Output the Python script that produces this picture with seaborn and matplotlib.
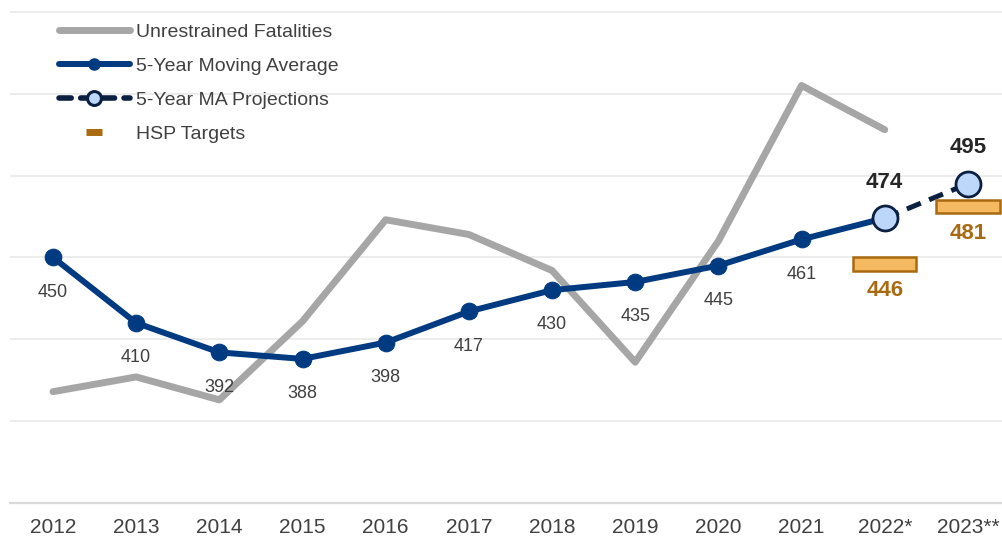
import matplotlib
matplotlib.use("Agg")
import matplotlib.pyplot as plt
from matplotlib.lines import Line2D
import seaborn as sns
import pandas as pd

years = ["2012", "2013", "2014", "2015", "2016", "2017", "2018", "2019",
         "2020", "2021", "2022*", "2023**"]
fatalities = [368, 377, 363, 411, 473, 464, 442, 386, 460, 555, 528]
moving_avg = [450, 410, 392, 388, 398, 417, 430, 435, 445, 461, 474]
proj_years = ["2022*", "2023**"]
projections = [474, 495]
target_years = ["2022*", "2023**"]
targets = [446, 481]

sns.set_theme(style="white")
plt.rcParams["font.family"] = ["Liberation Sans", "DejaVu Sans"]

GRAY = "#A6A6A6"
BLUE = "#003A80"
NAVY = "#0B1F40"
LIGHT = "#BDD7FA"
ORANGE_FILL = "#F5B961"
ORANGE_EDGE = "#A96A10"
ORANGE_TXT = "#A86B12"
TXT = "#404040"

pos = {y: i for i, y in enumerate(years)}
df_f = pd.DataFrame({"x": [pos[y] for y in years[:len(fatalities)]], "v": fatalities})
df_m = pd.DataFrame({"x": [pos[y] for y in years[:len(moving_avg)]], "v": moving_avg})
df_p = pd.DataFrame({"x": [pos[y] for y in proj_years], "v": projections})

fig = plt.figure(figsize=(10.02, 5.37), dpi=100)
ax = fig.add_axes([10 / 1002, 34 / 537, 992 / 1002, 492 / 537])

sns.lineplot(data=df_f, x="x", y="v", ax=ax, color=GRAY, linewidth=5,
             legend=False, zorder=2)
sns.lineplot(data=df_p, x="x", y="v", ax=ax, color=NAVY, linewidth=3.6,
             dashes=False, linestyle=(0, (3, 1.8)), legend=False, zorder=3)
sns.lineplot(data=df_m, x="x", y="v", ax=ax, color=BLUE, linewidth=4.3,
             marker="o", markersize=12, markeredgecolor=BLUE,
             legend=False, zorder=4)
ax.plot(df_p["x"], df_p["v"], linestyle="none", marker="o", markersize=18,
        markerfacecolor=LIGHT, markeredgecolor=NAVY, markeredgewidth=2,
        zorder=6, clip_on=False)

# HSP target bars
bar_h = 8
tx = [pos[y] for y in target_years]
ax.bar(tx, [bar_h] * len(targets), bottom=[t - bar_h / 2 for t in targets],
       width=0.76, color=ORANGE_FILL, edgecolor=ORANGE_EDGE, linewidth=1.8,
       zorder=5, clip_on=False)

ax.set_xlabel("")
ax.set_ylabel("")
ax.set_ylim(300, 600.5)
ax.set_xlim(-0.517, 11.41)
ax.set_yticks([300, 350, 400, 450, 500, 550, 600])
ax.yaxis.grid(True, color="#EBEBEB", linewidth=1.3)
ax.xaxis.grid(False)
ax.set_axisbelow(True)
for s in ["left", "right", "top"]:
    ax.spines[s].set_visible(False)
ax.spines["bottom"].set_color("#D9D9D9")
ax.spines["bottom"].set_linewidth(1.6)
ax.tick_params(axis="y", left=False, labelleft=False)
ax.tick_params(axis="x", length=0, pad=10.5, labelsize=15, labelcolor=TXT)
ax.set_xticks(range(len(years)))
ax.set_xticklabels(years)

# labels
for x, v in zip(df_m["x"][:-1], moving_avg[:-1]):
    ax.annotate(f"{v}", (x, v), xytext=(0, -25), textcoords="offset points",
                ha="center", va="center", fontsize=13, color=TXT)
for x, v in zip(df_p["x"], projections):
    ax.annotate(f"{v}", (x, v), xytext=(0, 26), textcoords="offset points",
                ha="center", va="center", fontsize=16, fontweight="bold",
                color="#262626")
for x, v in zip(tx, targets):
    ax.annotate(f"{v}", (x, v), xytext=(0, -19), textcoords="offset points",
                ha="center", va="center", fontsize=16, fontweight="bold",
                color=ORANGE_TXT)

handles = [
    Line2D([], [], color=GRAY, linewidth=5, solid_capstyle="round"),
    Line2D([], [], color=BLUE, linewidth=4.3, marker="o", markersize=8,
           solid_capstyle="round"),
    Line2D([], [], color=NAVY, linewidth=4, linestyle=(0, (2.2, 1.7)),
           marker="o", markersize=10, markerfacecolor=LIGHT,
           markeredgecolor=NAVY, markeredgewidth=2.2, dash_capstyle="round"),
    Line2D([], [], color=ORANGE_EDGE, linestyle="none", marker="_",
           markersize=11, markeredgewidth=5),
]
labels = ["Unrestrained Fatalities", "5-Year Moving Average",
          "5-Year MA Projections", "HSP Targets"]
leg = fig.legend(handles, labels, loc="upper left",
                 bbox_to_anchor=(59 / 1002, 1 - 23 / 537), frameon=False,
                 fontsize=14, handlelength=3.65, handletextpad=0.3,
                 labelspacing=0.85, borderaxespad=0, borderpad=0)
for t in leg.get_texts():
    t.set_color(TXT)

fig.savefig("out.png", dpi=100)
